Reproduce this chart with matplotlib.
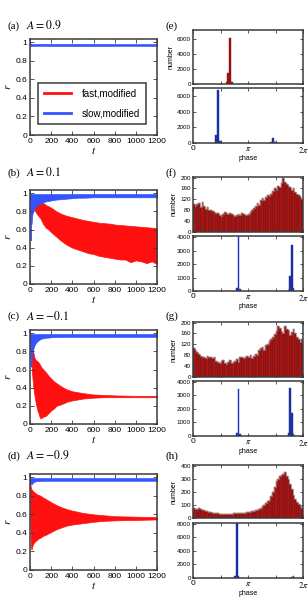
import numpy as np
import matplotlib
matplotlib.use('Agg')
import matplotlib.pyplot as plt

plt.rcParams['font.family'] = ['Liberation Sans', 'DejaVu Sans']
plt.rcParams['mathtext.fontset'] = 'stix'

# ---------------- time series envelopes (left column) ----------------
a_t = [0, 3, 8, 20, 100, 300, 600, 900, 1200]
a_fast_hi = [1.0, 0.99, 0.975, 0.972, 0.972, 0.972, 0.972, 0.972, 0.972]
a_fast_lo = [0.99, 0.97, 0.968, 0.968, 0.968, 0.968, 0.968, 0.968, 0.968]
a_slow_hi = [0.982, 0.986, 0.982, 0.98, 0.982, 0.98, 0.982, 0.98, 0.98]
a_slow_lo = [0.96, 0.956, 0.96, 0.961, 0.962, 0.961, 0.961, 0.962, 0.961]

b_t = [0, 3, 6, 10, 15, 20, 25, 30, 40, 50, 60, 80, 100, 125, 150, 175, 200, 250,
       300, 350, 400, 450, 500, 550, 600, 650, 700, 750, 800, 850, 900, 950, 1000,
       1050, 1100, 1150, 1200]
b_fast_hi = [1.0, 0.99, 0.97, 0.95, 0.93, 0.91, 0.90, 0.89, 0.88, 0.88, 0.89, 0.90,
             0.905, 0.89, 0.87, 0.855, 0.84, 0.80, 0.77, 0.75, 0.735, 0.72, 0.705,
             0.695, 0.685, 0.675, 0.67, 0.665, 0.655, 0.65, 0.645, 0.64, 0.635, 0.63,
             0.625, 0.62, 0.615]
b_fast_lo = [0.97, 0.9, 0.85, 0.82, 0.83, 0.84, 0.84, 0.83, 0.82, 0.80, 0.78, 0.75,
             0.72, 0.66, 0.62, 0.60, 0.57, 0.52, 0.47, 0.43, 0.40, 0.38, 0.36, 0.34,
             0.33, 0.31, 0.30, 0.29, 0.28, 0.27, 0.27, 0.24, 0.26, 0.25, 0.23, 0.25, 0.22]
b_slow_hi = [1.0, 0.995, 0.99, 0.99, 0.99, 0.99, 0.99, 0.99, 0.99, 0.99, 0.99, 0.99,
             0.99, 0.99, 0.99, 0.99, 0.99, 0.99, 0.99, 0.99, 0.99, 0.99, 0.99, 0.99,
             0.99, 0.99, 0.99, 0.99, 0.99, 0.99, 0.99, 0.99, 0.99, 0.99, 0.99, 0.99, 0.99]
b_slow_lo = [0.98, 0.6, 0.48, 0.72, 0.66, 0.75, 0.78, 0.80, 0.83, 0.85, 0.86, 0.875,
             0.885, 0.90, 0.91, 0.915, 0.92, 0.93, 0.935, 0.94, 0.945, 0.95, 0.95,
             0.952, 0.955, 0.955, 0.955, 0.955, 0.955, 0.955, 0.955, 0.955, 0.955,
             0.955, 0.955, 0.955, 0.955]

c_t = [0, 5, 10, 15, 20, 30, 40, 50, 60, 70, 80, 90, 100, 110, 125, 150, 175, 200,
       225, 250, 300, 350, 400, 450, 500, 600, 700, 800, 1000, 1200]
c_fast_hi = [1.0, 0.98, 0.95, 0.92, 0.88, 0.80, 0.74, 0.71, 0.70, 0.69, 0.68, 0.66,
             0.64, 0.62, 0.60, 0.57, 0.53, 0.50, 0.47, 0.45, 0.41, 0.38, 0.36, 0.35,
             0.34, 0.325, 0.32, 0.315, 0.31, 0.31]
c_fast_lo = [0.98, 0.9, 0.75, 0.65, 0.55, 0.42, 0.33, 0.26, 0.20, 0.15, 0.12, 0.08,
             0.06, 0.07, 0.08, 0.09, 0.12, 0.15, 0.17, 0.20, 0.22, 0.245, 0.26, 0.27,
             0.28, 0.29, 0.295, 0.295, 0.295, 0.295]
c_slow_hi = [1.0, 0.99, 0.99, 0.99, 0.99, 0.99, 0.99, 0.99, 0.99, 0.99, 0.99, 0.99,
             0.99, 0.99, 0.99, 0.99, 0.99, 0.99, 0.99, 0.99, 0.99, 0.99, 0.99, 0.99,
             0.99, 0.99, 0.99, 0.99, 0.99, 0.99]
c_slow_lo = [0.98, 0.65, 0.63, 0.68, 0.75, 0.82, 0.86, 0.88, 0.90, 0.91, 0.92, 0.93,
             0.935, 0.94, 0.945, 0.95, 0.952, 0.955, 0.957, 0.958, 0.96, 0.96, 0.96,
             0.96, 0.96, 0.96, 0.96, 0.96, 0.96, 0.96]

d_t = [0, 3, 6, 10, 15, 20, 30, 40, 50, 60, 80, 100, 125, 150, 200, 250, 300, 350,
       400, 500, 600, 700, 800, 1000, 1200]
d_fast_hi = [1.0, 0.95, 0.90, 0.88, 0.87, 0.86, 0.85, 0.84, 0.83, 0.82, 0.81, 0.80,
             0.78, 0.765, 0.73, 0.70, 0.675, 0.655, 0.64, 0.615, 0.60, 0.59, 0.58,
             0.575, 0.57]
d_fast_lo = [0.98, 0.60, 0.35, 0.24, 0.22, 0.25, 0.28, 0.30, 0.31, 0.32, 0.34, 0.35,
             0.37, 0.38, 0.41, 0.44, 0.46, 0.48, 0.49, 0.505, 0.52, 0.53, 0.535, 0.54,
             0.545]
d_slow_hi = [1.0, 0.99, 0.99, 0.99, 0.99, 0.99, 0.99, 0.99, 0.99, 0.99, 0.99, 0.99,
             0.99, 0.99, 0.99, 0.99, 0.99, 0.99, 0.99, 0.99, 0.99, 0.99, 0.99, 0.99, 0.99]
d_slow_lo = [0.98, 0.95, 0.94, 0.93, 0.925, 0.93, 0.945, 0.95, 0.955, 0.958, 0.96,
             0.96, 0.962, 0.962, 0.962, 0.962, 0.962, 0.962, 0.962, 0.962, 0.962,
             0.962, 0.962, 0.962, 0.962]

# ---------------- phase histograms (right column), 64 bins ----------------
nbins = 64
e_fast_bin = [19, 20, 21, 22]
e_fast_cnt = [250, 1500, 6200, 250]
e_slow_bin = [13, 14, 15, 45, 46, 47]
e_slow_cnt = [1000, 6800, 200, 120, 600, 100]

f_fast = [102, 96, 104, 108, 92, 110, 96, 86, 90, 82, 80, 76, 73, 70, 68, 63,
          60, 66, 72, 68, 65, 70, 66, 62, 60, 63, 66, 62, 70, 67, 64, 62,
          66, 72, 80, 88, 96, 108, 100, 118, 124, 118, 130, 136, 134, 140, 150, 160,
          156, 170, 165, 180, 198, 184, 176, 170, 166, 156, 160, 146, 140, 136, 128, 122]
f_slow_bin = [25, 26, 27, 55, 56, 57, 58]
f_slow_cnt = [250, 4500, 150, 80, 1100, 3400, 250]

g_fast = [105, 100, 90, 84, 78, 72, 75, 70, 78, 74, 72, 68, 72, 60, 55, 52,
          58, 62, 50, 48, 56, 62, 50, 56, 60, 66, 56, 75, 72, 70, 72, 78,
          75, 80, 70, 78, 86, 82, 100, 106, 110, 100, 116, 122, 132, 140, 148, 158,
          170, 186, 180, 170, 160, 186, 178, 172, 156, 166, 176, 160, 148, 140, 130, 138]
g_slow_bin = [25, 26, 27, 55, 56, 57, 58]
g_slow_cnt = [200, 3450, 150, 200, 3550, 1700, 150]

h_fast = [76, 72, 70, 74, 66, 62, 60, 56, 50, 48, 45, 42, 40, 36, 35, 33,
          32, 30, 31, 32, 30, 31, 33, 35, 36, 38, 40, 42, 38, 35, 40, 45,
          46, 48, 52, 55, 58, 62, 68, 75, 88, 100, 115, 128, 140, 165, 200, 240,
          280, 300, 320, 330, 336, 350, 322, 300, 262, 222, 172, 142, 122, 110, 90, 80]
h_slow_bin = [24, 25, 26, 57, 58]
h_slow_cnt = [250, 9000, 300, 100, 300]

panel_A = ['0.9', '0.1', '-0.1', '-0.9']
left_tags = ['(a)', '(b)', '(c)', '(d)']
right_tags = ['(e)', '(f)', '(g)', '(h)']

t_ticks = [0, 200, 400, 600, 800, 1000, 1200]
r_ticks = [0, 0.2, 0.4, 0.6, 0.8, 1.0]
r_ticklabels = ['0', '0.2', '0.4', '0.6', '0.8', '1']

e_yticks = ([0, 2000, 4000, 6000], [0, 2000, 4000, 6000])
f_yticks = ([0, 40, 80, 120, 160, 200], [0, 1000, 2000, 3000, 4000])
g_yticks = ([0, 40, 80, 120, 160, 200], [0, 1000, 2000, 3000, 4000])
h_yticks = ([0, 100, 200, 300, 400], [0, 2000, 4000, 6000, 8000])
ylims = [((0, 7200), (0, 7000)), ((0, 202), (0, 4080)),
         ((0, 202), (0, 4050)), ((0, 405), (0, 8100))]

# ---------------- layout ----------------
W, H = 308, 598
fig = plt.figure(figsize=(W / 100, H / 100), dpi=100)


def box(x0, y0, x1, y1):
    return [x0 / W, 1 - y1 / H, (x1 - x0) / W, (y1 - y0) / H]


left_boxes = [(30, 39, 157, 135), (30, 190, 157, 284), (30, 330, 157, 424), (30, 474, 157, 570)]
right_boxes = [((193, 30, 303, 84), (193, 88, 303, 143)),
               ((193, 177, 303, 232), (193, 236, 303, 291)),
               ((193, 322, 303, 377), (193, 381, 303, 436)),
               ((193, 465, 303, 518), (193, 523, 303, 578))]
tag_y = [26, 173, 316, 456]

RED = '#ff1010'
BLUE = '#3355ff'
SPINE = '#3a3a3a'

series = [(a_t, a_fast_lo, a_fast_hi, a_slow_lo, a_slow_hi),
          (b_t, b_fast_lo, b_fast_hi, b_slow_lo, b_slow_hi),
          (c_t, c_fast_lo, c_fast_hi, c_slow_lo, c_slow_hi),
          (d_t, d_fast_lo, d_fast_hi, d_slow_lo, d_slow_hi)]


def style(ax, size, length):
    for s in ax.spines.values():
        s.set_color(SPINE)
        s.set_linewidth(1.1)
    ax.tick_params(direction='in', top=True, right=True, length=length, width=0.6,
                   labelsize=size, pad=2, colors=SPINE, labelcolor='black')


for i in range(4):
    t, flo, fhi, slo, shi = series[i]
    ax = fig.add_axes(box(*left_boxes[i]))
    ax.fill_between(t, flo, fhi, color=RED, lw=0.5, ec=RED)
    ax.fill_between(t, slo, shi, color=BLUE, lw=0.5, ec=BLUE)
    ax.set_xlim(0, 1200)
    ax.set_ylim(0, 1.035)
    ax.set_xticks(t_ticks)
    ax.set_yticks(r_ticks)
    ax.set_yticklabels(r_ticklabels)
    style(ax, 6, 3)
    ax.set_xlabel('$t$', fontsize=8, labelpad=0)
    ax.set_ylabel('$r$', fontsize=8, labelpad=2)
    if i == 0:
        ax.plot([], [], color=RED, lw=2, label='fast,modified')
        ax.plot([], [], color=BLUE, lw=2, label='slow,modified')
        leg = ax.legend(loc='lower left', bbox_to_anchor=(0.063, 0.115), borderaxespad=0,
                        fontsize=7, handlelength=2.8, handletextpad=1.1, labelspacing=1.0,
                        borderpad=0.6, fancybox=False, framealpha=1)
        leg.get_frame().set_edgecolor(SPINE)
        leg.get_frame().set_linewidth(1.1)
    fig.text(8 / W, 1 - tag_y[i] / H, left_tags[i], fontsize=8, family='Liberation Serif',
             va='center', ha='left')
    fig.text(26 / W, 1 - tag_y[i] / H, '$A=%s$' % panel_A[i],
             fontsize=8.5, va='center', ha='left')

width = 2 * np.pi / nbins
centers = (np.arange(nbins) + 0.5) * width
fast_hists = [(e_fast_bin, e_fast_cnt), (None, f_fast), (None, g_fast), (None, h_fast)]
slow_hists = [(e_slow_bin, e_slow_cnt), (f_slow_bin, f_slow_cnt),
              (g_slow_bin, g_slow_cnt), (h_slow_bin, h_slow_cnt)]
yticks = [e_yticks, f_yticks, g_yticks, h_yticks]

for i in range(4):
    up_box, lo_box = right_boxes[i]
    ax1 = fig.add_axes(box(*up_box))
    ax2 = fig.add_axes(box(*lo_box))
    fb, fc = fast_hists[i]
    if fb is None:
        x = centers
    else:
        x = centers[fb]
    ax1.bar(x, fc, width=width, color='#7e1010', edgecolor='#c82020', linewidth=0.35)
    if fb is None:
        ax1.step(np.append(centers - width / 2, 2 * np.pi), np.append(fc, fc[-1]),
                 where='post', color='#8a8a8a', lw=0.5)
    sb, sc = slow_hists[i]
    ax2.bar(centers[sb], sc, width=width, color='#1a2a88', edgecolor='#2a46c8', linewidth=0.35)
    for ax, yl, yt in zip((ax1, ax2), ylims[i], yticks[i]):
        ax.set_xlim(0, 2 * np.pi)
        ax.set_ylim(*yl)
        ax.set_yticks(yt)
        ax.set_xticks([0, np.pi / 2, np.pi, 3 * np.pi / 2, 2 * np.pi])
        style(ax, 4.5, 2)
        ax.tick_params(axis='y', pad=1.5)
    ax1.set_xticklabels([])
    ax2.set_xticklabels(['0', '', r'$\pi$', '', r'$2\pi$'], fontsize=6)
    ax2.tick_params(axis='x', pad=1.5)
    ax2.set_xlabel('phase', fontsize=5, labelpad=0)
    ax1.set_ylabel('number', fontsize=5, labelpad=2)
    fig.text(166 / W, 1 - tag_y[i] / H, right_tags[i], fontsize=8, family='Liberation Serif',
             va='center', ha='left')

fig.savefig('out.png', dpi=100)
